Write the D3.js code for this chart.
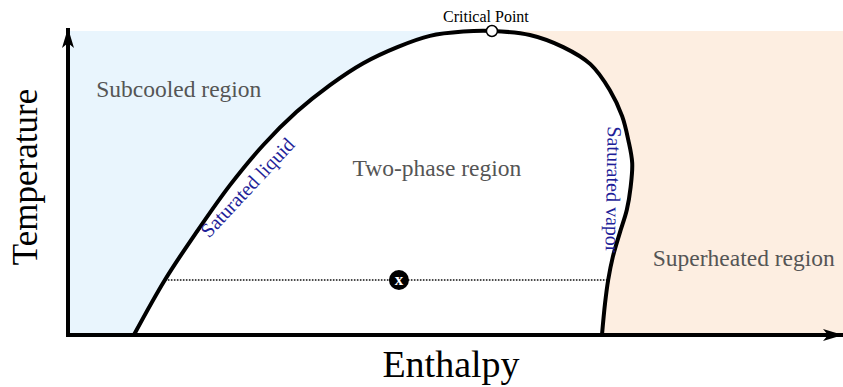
<!DOCTYPE html>
<html>
<head>
<meta charset="utf-8">
<script src="https://cdn.jsdelivr.net/npm/d3@7"></script>
<style>
  html, body { margin: 0; padding: 0; background: #fff; }
  svg { display: block; }
  text { font-family: "Liberation Serif", "Times New Roman", serif; }
</style>
</head>
<body>
<svg id="chart" width="843" height="387"></svg>
<script>
// Saturation dome of a T–h diagram (normalised units: 0–100)
const liquidEnthalpy    = [8.5, 12.5, 16.6, 20.9, 25.2, 29.5, 33.8, 38.1, 42.5, 46.7, 51.0, 54.7];
const liquidTemperature = [0.0, 18.1, 33.9, 49.3, 62.5, 73.4, 82.2, 89.4, 94.7, 98.4, 99.8, 100];
const vaporEnthalpy     = [54.7, 59.6, 63.9, 67.4, 69.9, 71.5, 72.3, 72.8, 72.6, 72.1, 71.2, 70.3, 69.7, 69.3, 68.9];
const vaporTemperature  = [100, 98.7, 94.7, 89.1, 80.6, 72.0, 64.1, 56.6, 48.7, 41.1, 33.6, 25.7, 18.1, 10.5, 0.0];
const criticalPoint     = { h: 54.7, t: 100, label: "Critical Point" };
const statePoint        = { h: 42.7, t: 18.1, label: "x" };
const isobarEnds        = [12.5, 69.7];

const regionLabels = [
  { text: "Subcooled region",   h: 14.3, t: 78.3 },
  { text: "Two-phase region",   h: 47.6, t: 52.3 },
  { text: "Superheated region", h: 87.2, t: 22.7 }
];
const curveLabels = [
  { text: "Saturated liquid", h: 23.8, t: 47.0, angle: -47 },
  { text: "Saturated vapor",  h: 69.5, t: 47.9, angle: 91 }
];

const svg = d3.select("#chart");
const x = d3.scaleLinear().domain([0, 100]).range([68, 843]);
const y = d3.scaleLinear().domain([0, 100]).range([335, 31]);

const liquid = liquidEnthalpy.map((h, i) => [h, liquidTemperature[i]]);
const vapor  = vaporEnthalpy.map((h, i) => [h, vaporTemperature[i]]);
const dome   = liquid.concat(vapor.slice(1));

// Background regions: subcooled (left of the critical point) and superheated (right)
svg.append("rect")
  .attr("x", x(0)).attr("y", y(100))
  .attr("width", x(criticalPoint.h) - x(0)).attr("height", y(0) - y(100))
  .attr("fill", "#e9f5fd");
svg.append("rect")
  .attr("x", x(criticalPoint.h)).attr("y", y(100))
  .attr("width", x(100) - x(criticalPoint.h)).attr("height", y(0) - y(100))
  .attr("fill", "#fdeee1");

const line = d3.line()
  .x(d => x(d[0])).y(d => y(d[1]))
  .curve(d3.curveCatmullRom.alpha(0.5));

// Two-phase interior
svg.append("path")
  .attr("d", line(dome) + "Z")
  .attr("fill", "#fff");

// Constant-pressure line through the state point
svg.append("line")
  .attr("x1", x(isobarEnds[0])).attr("x2", x(isobarEnds[1]))
  .attr("y1", y(statePoint.t)).attr("y2", y(statePoint.t))
  .attr("stroke", "#111").attr("stroke-width", 1.6)
  .attr("stroke-dasharray", "1.6,1.4");

// Saturation curve
svg.append("path")
  .attr("d", line(dome))
  .attr("fill", "none")
  .attr("stroke", "#000")
  .attr("stroke-width", 4)
  .attr("stroke-linejoin", "round");

// Axes with arrowheads
const defs = svg.append("defs");
defs.append("marker")
  .attr("id", "arrow")
  .attr("markerUnits", "userSpaceOnUse")
  .attr("viewBox", "-20 -8 22 16")
  .attr("refX", 0).attr("refY", 0)
  .attr("markerWidth", 22).attr("markerHeight", 16)
  .attr("orient", "auto")
  .append("path")
  .attr("d", "M0,0 L-20,-6 L-15,0 L-20,6 Z")
  .attr("fill", "#000");

svg.append("path")
  .attr("d", `M${x(0)},${y(0) + 2}V${y(101)}`)
  .attr("stroke", "#000").attr("stroke-width", 4)
  .attr("marker-end", "url(#arrow)");
svg.append("path")
  .attr("d", `M${x(0) - 2},${y(0)}H${x(100)}`)
  .attr("stroke", "#000").attr("stroke-width", 4)
  .attr("marker-end", "url(#arrow)");

// Critical point
svg.append("circle")
  .attr("cx", x(criticalPoint.h)).attr("cy", y(criticalPoint.t))
  .attr("r", 5.5)
  .attr("fill", "#fff").attr("stroke", "#000").attr("stroke-width", 1.5);
svg.append("text")
  .attr("x", x(criticalPoint.h) - 6).attr("y", y(criticalPoint.t) - 9)
  .attr("text-anchor", "middle")
  .attr("font-size", 16)
  .attr("fill", "#000")
  .text(criticalPoint.label);

// State point
svg.append("circle")
  .attr("cx", x(statePoint.h)).attr("cy", y(statePoint.t))
  .attr("r", 10).attr("fill", "#000");
svg.append("text")
  .attr("x", x(statePoint.h)).attr("y", y(statePoint.t) + 5)
  .attr("text-anchor", "middle")
  .attr("font-size", 17).attr("font-weight", "bold")
  .attr("fill", "#fff")
  .text(statePoint.label);

// Region labels
svg.selectAll("text.region")
  .data(regionLabels)
  .join("text")
  .attr("class", "region")
  .attr("x", d => x(d.h)).attr("y", d => y(d.t))
  .attr("text-anchor", "middle")
  .attr("font-size", 23.5)
  .attr("fill", "#555")
  .text(d => d.text);

// Curve labels
svg.selectAll("text.curve")
  .data(curveLabels)
  .join("text")
  .attr("class", "curve")
  .attr("transform", d => `translate(${x(d.h)},${y(d.t)}) rotate(${d.angle})`)
  .attr("text-anchor", "middle")
  .attr("font-size", 20)
  .attr("fill", "#1f1f99")
  .text(d => d.text);

// Axis titles
svg.append("text")
  .attr("x", 451).attr("y", 377)
  .attr("text-anchor", "middle")
  .attr("font-size", 38)
  .attr("fill", "#000")
  .text("Enthalpy");
svg.append("text")
  .attr("transform", "translate(37,177) rotate(-90)")
  .attr("text-anchor", "middle")
  .attr("font-size", 35)
  .attr("fill", "#000")
  .text("Temperature");
</script>
</body>
</html>
